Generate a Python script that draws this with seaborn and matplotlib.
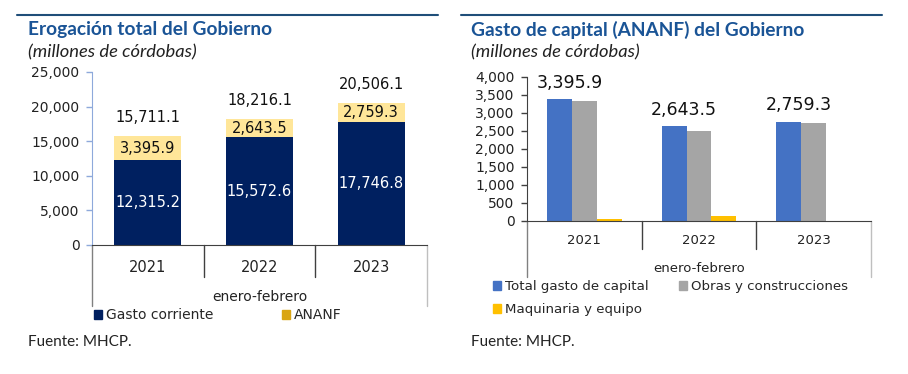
import numpy as np
import pandas as pd
import matplotlib
matplotlib.use("Agg")
import matplotlib.pyplot as plt
import seaborn as sns
from matplotlib.lines import Line2D
from matplotlib.patches import Patch
import matplotlib.transforms as mtransforms

sns.set_style("white")
plt.rcParams['font.family'] = ['DejaVu Sans']

# Datos
anios = ["2021", "2022", "2023"]
gasto_corriente = [12315.2, 15572.6, 17746.8]
ananf = [3395.9, 2643.5, 2759.3]
erogacion_total = [15711.1, 18216.1, 20506.1]

series_capital = ["Total gasto de capital", "Obras y construcciones", "Maquinaria y equipo"]
total_capital = [3395.9, 2643.5, 2759.3]
obras = [3340.0, 2505.0, 2735.0]
maquinaria = [55.0, 138.0, 12.0]

NAVY = "#002060"
PALE_YELLOW = "#FFE699"
GOLD = "#D9A514"
BLUE = "#4472C4"
GRAY = "#A5A5A5"
YELLOW = "#FFC000"
TITLE_C = "#1A5496"
RULE_C = "#1F4E79"

fig = plt.figure(figsize=(9.08, 3.74), dpi=100)
W, H = 908, 374


def px_axes(x0, y0, x1, y1):
    return fig.add_axes([x0 / W, 1 - y1 / H, (x1 - x0) / W, (y1 - y0) / H])


def header(x, rule_x0, rule_x1, title):
    fig.add_artist(Line2D([rule_x0 / W, rule_x1 / W], [1 - 15 / H] * 2, color=RULE_C, lw=1.5))
    fig.text(x / W, 1 - 30 / H, title, color=TITLE_C, fontsize=13.8, fontweight="bold",
             va="center", ha="left", family="Lato")
    fig.text(x / W, 1 - 52 / H, "(millones de córdobas)", fontsize=13.2, style="italic",
             va="center", ha="left", color="#222222", family="Lato")
    fig.text(x / W, 1 - 342 / H, "Fuente: MHCP.", fontsize=11, va="center", ha="left",
             color="#222222", family="Lato")


def category_frame(ax, sep_depth, box_depth, spine_left_color):
    trans = mtransforms.blended_transform_factory(ax.transData, ax.transAxes)
    for xs in [0.5, 1.5]:
        ax.plot([xs, xs], [0, sep_depth], transform=trans, color="#404040", lw=1, clip_on=False)
    ax.plot([-0.5, -0.5], [0, box_depth], transform=trans, color="#808080", lw=1, clip_on=False)
    ax.plot([2.5, 2.5], [0, box_depth], transform=trans, color="#BFBFBF", lw=1, clip_on=False)
    for s in ["top", "right"]:
        ax.spines[s].set_visible(False)
    ax.spines["bottom"].set_color("#404040")
    ax.spines["left"].set_color(spine_left_color)
    ax.tick_params(axis="y", direction="out", length=4, width=1, color=spine_left_color,
                   left=True, pad=5)
    ax.tick_params(axis="x", length=0)
    ax.set_xlim(-0.5, 2.5)
    ax.set_xlabel("")
    ax.set_ylabel("")
    ax.yaxis.set_major_formatter(matplotlib.ticker.FuncFormatter(lambda v, p: f"{v:,.0f}"))


# ---------- Panel izquierdo ----------
header(28, 17, 438, "Erogación total del Gobierno")
ax1 = px_axes(92, 72, 427, 245)
df1 = pd.DataFrame({"anio": anios, "total": erogacion_total, "corriente": gasto_corriente})
sns.barplot(data=df1, x="anio", y="total", color=PALE_YELLOW, width=0.6, ax=ax1,
            saturation=1, edgecolor="none")
sns.barplot(data=df1, x="anio", y="corriente", color=NAVY, width=0.6, ax=ax1,
            saturation=1, edgecolor="none")
ax1.set_ylim(0, 25000)
ax1.set_yticks(np.arange(0, 25001, 5000))
category_frame(ax1, -0.185, -0.353, "#8EA9DB")
ax1.tick_params(axis="y", labelsize=10, labelcolor="#222222")
ax1.tick_params(axis="x", labelsize=10.5, labelcolor="#222222", pad=11)
for i in range(3):
    ax1.text(i, gasto_corriente[i] / 2, f"{gasto_corriente[i]:,.1f}", ha="center", va="center",
             color="white", fontsize=10.5)
    ax1.text(i, gasto_corriente[i] + ananf[i] / 2, f"{ananf[i]:,.1f}", ha="center", va="center",
             color="#111111", fontsize=10.5)
    ax1.text(i, erogacion_total[i] + 2700, f"{erogacion_total[i]:,.1f}", ha="center", va="center",
             color="#111111", fontsize=10.5)
ax1.text(0.5, -0.30, "enero-febrero", transform=ax1.transAxes, ha="center", va="center",
         fontsize=10, color="#222222")
ax1.legend(handles=[Patch(color=NAVY, label="Gasto corriente"), Patch(color=GOLD, label="ANANF")],
           ncol=2, loc="center left", bbox_to_anchor=(0.005, -0.405), frameon=False,
           fontsize=10, handlelength=0.6, handleheight=0.6, handletextpad=0.3,
           columnspacing=4.9, borderaxespad=0, borderpad=0)

# ---------- Panel derecho ----------
header(471, 461, 882, "Gasto de capital (ANANF) del Gobierno")
ax2 = px_axes(527, 77, 871, 221)
df2 = pd.DataFrame({
    "anio": anios * 3,
    "serie": [series_capital[0]] * 3 + [series_capital[1]] * 3 + [series_capital[2]] * 3,
    "valor": total_capital + obras + maquinaria,
})
sns.barplot(data=df2, x="anio", y="valor", hue="serie", hue_order=series_capital,
            palette=[BLUE, GRAY, YELLOW], width=0.65, gap=0, saturation=1,
            edgecolor="none", ax=ax2, legend=False)
ax2.set_ylim(0, 4000)
ax2.set_yticks(np.arange(0, 4001, 500))
category_frame(ax2, -0.194, -0.389, "#404040")
ax2.tick_params(axis="y", labelsize=10, labelcolor="#222222")
ax2.tick_params(axis="x", labelsize=9.5, labelcolor="#222222", pad=9)
for i in range(3):
    ax2.text(i - 0.13, total_capital[i] + 450, f"{total_capital[i]:,.1f}", ha="center",
             va="center", color="#111111", fontsize=12.5)
ax2.text(0.5, -0.33, "enero-febrero", transform=ax2.transAxes, ha="center", va="center",
         fontsize=9.5, color="#222222")
handles2 = [Patch(color=BLUE, label=series_capital[0]),
            Patch(color=YELLOW, label=series_capital[2]),
            Patch(color=GRAY, label=series_capital[1])]
ax2.legend(handles=handles2, ncol=2, loc="upper left", bbox_to_anchor=(-0.1, -0.41),
           frameon=False, fontsize=9.6, handlelength=0.6, handleheight=0.6,
           handletextpad=0.3, columnspacing=2.3, borderaxespad=0, borderpad=0,
           labelspacing=0.75)

fig.savefig("out.png", dpi=100)
